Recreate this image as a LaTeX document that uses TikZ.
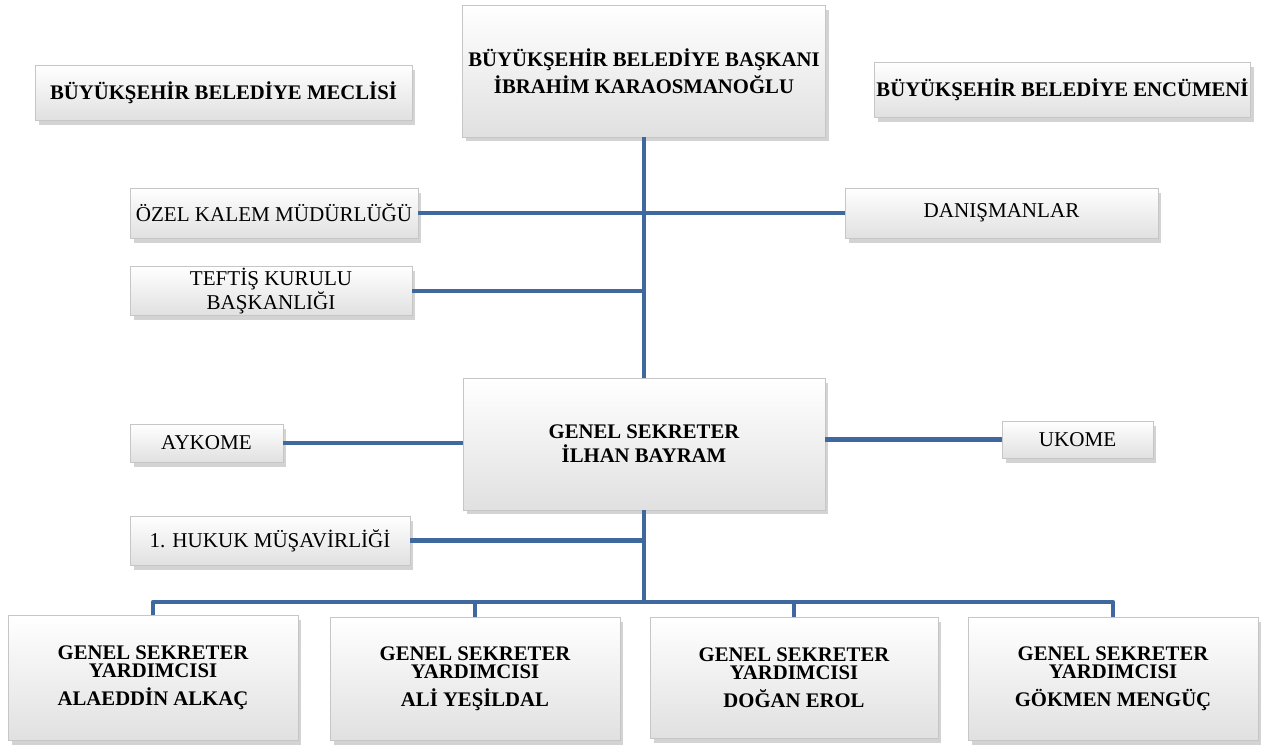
\documentclass[tikz,border=0pt]{standalone}
\usepackage{fontspec}
\setmainfont{Liberation Serif}
\usetikzlibrary{shadows}
\definecolor{linkblue}{RGB}{62,104,158}

\begin{document}
\begin{tikzpicture}[x=0.02cm, y=-0.02cm, box/.style = {draw=gray!45, line width=0.4pt, top color=white, bottom color=gray!24, drop shadow={opacity=0.35, shadow xshift=0.7mm, shadow yshift=-0.9mm}, align=center, inner sep=1pt, font=\fontsize{12}{11}\selectfont}, bbox/.style = {box, font=\fontsize{11.8}{10.5}\selectfont\bfseries}, link/.style = {linkblue, line width=2.7pt, line join=round}]
    \useasboundingbox (0,0) rectangle (1261,745);

    % top row
    \node[bbox, minimum width=7.26cm, minimum height=2.64cm] (baskan) at (644,71) {B\"UY\"UK\c{S}EH\.IR BELED\.IYE BA\c{S}KANI\\[1.5pt] \.IBRAH\.IM KARAOSMANO\u{G}LU};
    \node[bbox, minimum width=7.54cm, minimum height=1.10cm] (meclis) at (223.5,92.5) {B\"UY\"UK\c{S}EH\.IR BELED\.IYE MECL\.IS\.I};
    \node[bbox, minimum width=7.42cm, minimum height=1.10cm] (encumen) at (1062.5,89.5) {B\"UY\"UK\c{S}EH\.IR BELED\.IYE ENC\"UMEN\.I};

    % staff units
    \node[box, minimum width=5.76cm, minimum height=1.00cm] (ozel) at (274,213) {\"OZEL KALEM M\"UD\"URL\"U\u{G}\"U};
    \node[box, minimum width=6.26cm, minimum height=1.00cm] (danis) at (1001.5,213) {DANI\c{S}MANLAR};
    \node[box, minimum width=5.64cm, minimum height=0.96cm] (teftis) at (271,291) {TEFT\.I\c{S} KURULU\\BA\c{S}KANLI\u{G}I};

    % general secretary
    \node[bbox, minimum width=7.24cm, minimum height=2.64cm] (gensek) at (644,444) {GENEL SEKRETER\\[3pt] \.ILHAN BAYRAM};
    \node[box, minimum width=3.06cm, minimum height=0.76cm] (aykome) at (206.5,443) {AYKOME};
    \node[box, minimum width=3.02cm, minimum height=0.74cm] (ukome) at (1077.5,439.5) {UKOME};
    \node[box, minimum width=5.60cm, minimum height=0.98cm] (hukuk) at (270,540.5) {1. HUKUK M\"U\c{S}AV\.IRL\.I\u{G}\.I};

    % deputies
    \node[bbox, minimum width=5.80cm, minimum height=2.50cm] (yrd1) at (153,677.5) {GENEL SEKRETER\\YARDIMCISI\\[5pt] ALAEDD\.IN ALKA\c{C}};
    \node[bbox, minimum width=5.80cm, minimum height=2.46cm] (yrd2) at (475,678.5) {GENEL SEKRETER\\YARDIMCISI\\[5pt] AL\.I YE\c{S}\.ILDAL};
    \node[bbox, minimum width=5.76cm, minimum height=2.42cm] (yrd3) at (794,677.5) {GENEL SEKRETER\\YARDIMCISI\\[5pt] DO\u{G}AN EROL};
    \node[bbox, minimum width=5.80cm, minimum height=2.46cm] (yrd4) at (1113,678.5) {GENEL SEKRETER\\YARDIMCISI\\[5pt] G\"OKMEN MENG\"U\c{C}};

    % connectors
    \coordinate (bus) at (644,602);
    \draw[link] (baskan.south) -- (gensek.north);
    \draw[link] (ozel.east) -- (danis.west);
    \draw[link] (teftis.east) -- (teftis.east -| baskan.south);
    \draw[link] (aykome.east) -- (aykome.east -| gensek.west);
    \draw[link] (gensek.east |- ukome.west) -- (ukome.west);
    \draw[link] (hukuk.east) -- (hukuk.east -| gensek.south);
    \draw[link] (gensek.south) -- (gensek.south |- bus);
    \draw[link] (yrd1.north) -- (yrd1.north |- bus) -- (yrd4.north |- bus) -- (yrd4.north);
    \draw[link] (yrd2.north) -- (yrd2.north |- bus);
    \draw[link] (yrd3.north) -- (yrd3.north |- bus);

\end{tikzpicture}
\end{document}
